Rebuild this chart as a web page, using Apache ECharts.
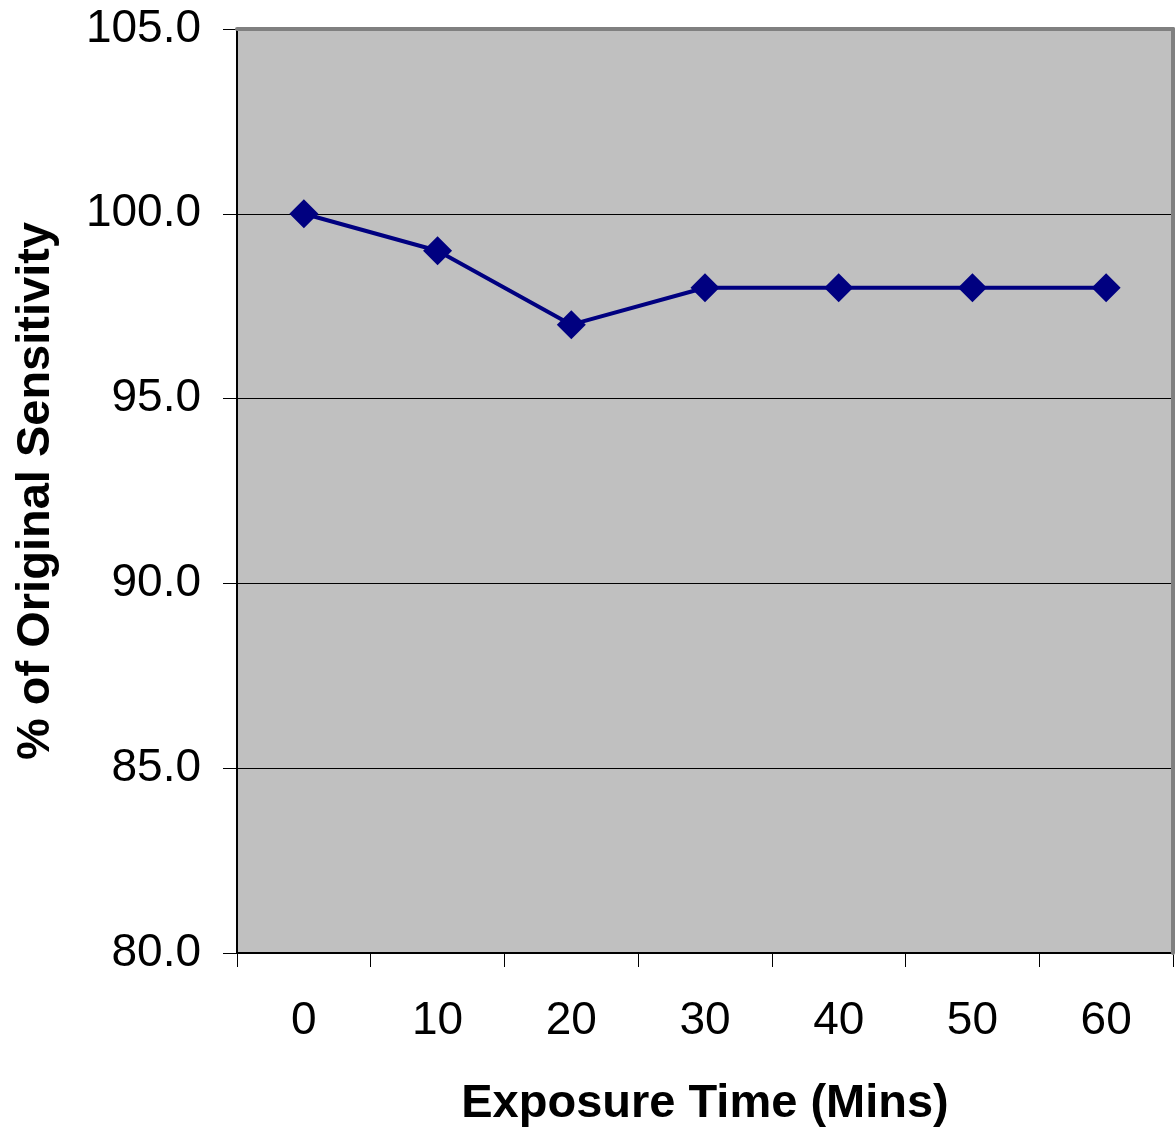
<!DOCTYPE html>
<html>
<head>
<meta charset="utf-8">
<title>Sensitivity vs Exposure Time</title>
<script src="https://cdn.jsdelivr.net/npm/echarts@6/dist/echarts.min.js"></script>
<style>
  html, body { margin: 0; padding: 0; background: #ffffff; }
  #chart { width: 1176px; height: 1135px; }
</style>
</head>
<body>
<div id="chart"></div>
<script>
// Exposure times (minutes) and retained sensitivity (%)
const exposureTimes = ['0', '10', '20', '30', '40', '50', '60'];
const sensitivity = [100, 99, 97, 98, 98, 98, 98];

const yMin = 80;
const yMax = 105;
const yStep = 5;

const FONT = '"Liberation Sans", Arial, sans-serif';

const chart = echarts.init(document.getElementById('chart'), null, { renderer: 'canvas' });

chart.setOption({
  animation: false,
  backgroundColor: '#ffffff',
  grid: {
    left: 237,
    right: 3,
    top: 29,
    bottom: 182,
    show: true,
    backgroundColor: '#C0C0C0',
    borderWidth: 0
  },
  xAxis: [
    {
      type: 'category',
      data: exposureTimes,
      boundaryGap: true,
      position: 'bottom',
      axisLine: { show: true, lineStyle: { color: '#000000', width: 2 } },
      axisTick: { show: true, length: 14, inside: false, lineStyle: { color: '#000000', width: 1 } },
      axisLabel: { color: '#000000', fontSize: 46, fontFamily: FONT, margin: 45 },
      splitLine: { show: false },
      name: 'Exposure Time (Mins)',
      nameLocation: 'middle',
      nameGap: 151,
      nameTextStyle: { color: '#000000', fontSize: 47, fontWeight: 'bold', fontFamily: FONT, verticalAlign: 'middle' }
    },
    {
      // grey frame along the top of the plot area
      type: 'category',
      data: exposureTimes,
      position: 'top',
      z: 3,
      axisLine: { show: true, lineStyle: { color: '#808080', width: 4 } },
      axisTick: { show: false },
      axisLabel: { show: false },
      splitLine: { show: false }
    }
  ],
  yAxis: [
    {
      type: 'value',
      min: yMin,
      max: yMax,
      interval: yStep,
      position: 'left',
      axisLine: { show: true, lineStyle: { color: '#000000', width: 2 } },
      axisTick: { show: true, length: 14, inside: false, lineStyle: { color: '#000000', width: 1 } },
      axisLabel: {
        color: '#000000', fontSize: 46, fontFamily: FONT, margin: 36,
        formatter: v => v.toFixed(1)
      },
      splitLine: { show: true, lineStyle: { color: '#000000', width: 1 } },
      name: '% of Original Sensitivity',
      nameLocation: 'middle',
      nameGap: 201,
      nameRotate: 90,
      nameTextStyle: { color: '#000000', fontSize: 47, fontWeight: 'bold', fontFamily: FONT, verticalAlign: 'middle' }
    },
    {
      // grey frame along the right edge of the plot area
      type: 'value',
      min: yMin,
      max: yMax,
      interval: yStep,
      position: 'right',
      z: 3,
      axisLine: { show: true, lineStyle: { color: '#808080', width: 4 } },
      axisTick: { show: false },
      axisLabel: { show: false },
      splitLine: { show: false }
    }
  ],
  series: [
    {
      type: 'line',
      data: sensitivity,
      xAxisIndex: 0,
      yAxisIndex: 0,
      z: 5,
      symbol: 'diamond',
      symbolSize: 29,
      lineStyle: { color: '#000080', width: 4 },
      itemStyle: { color: '#000080' }
    }
  ]
});
</script>
</body>
</html>
